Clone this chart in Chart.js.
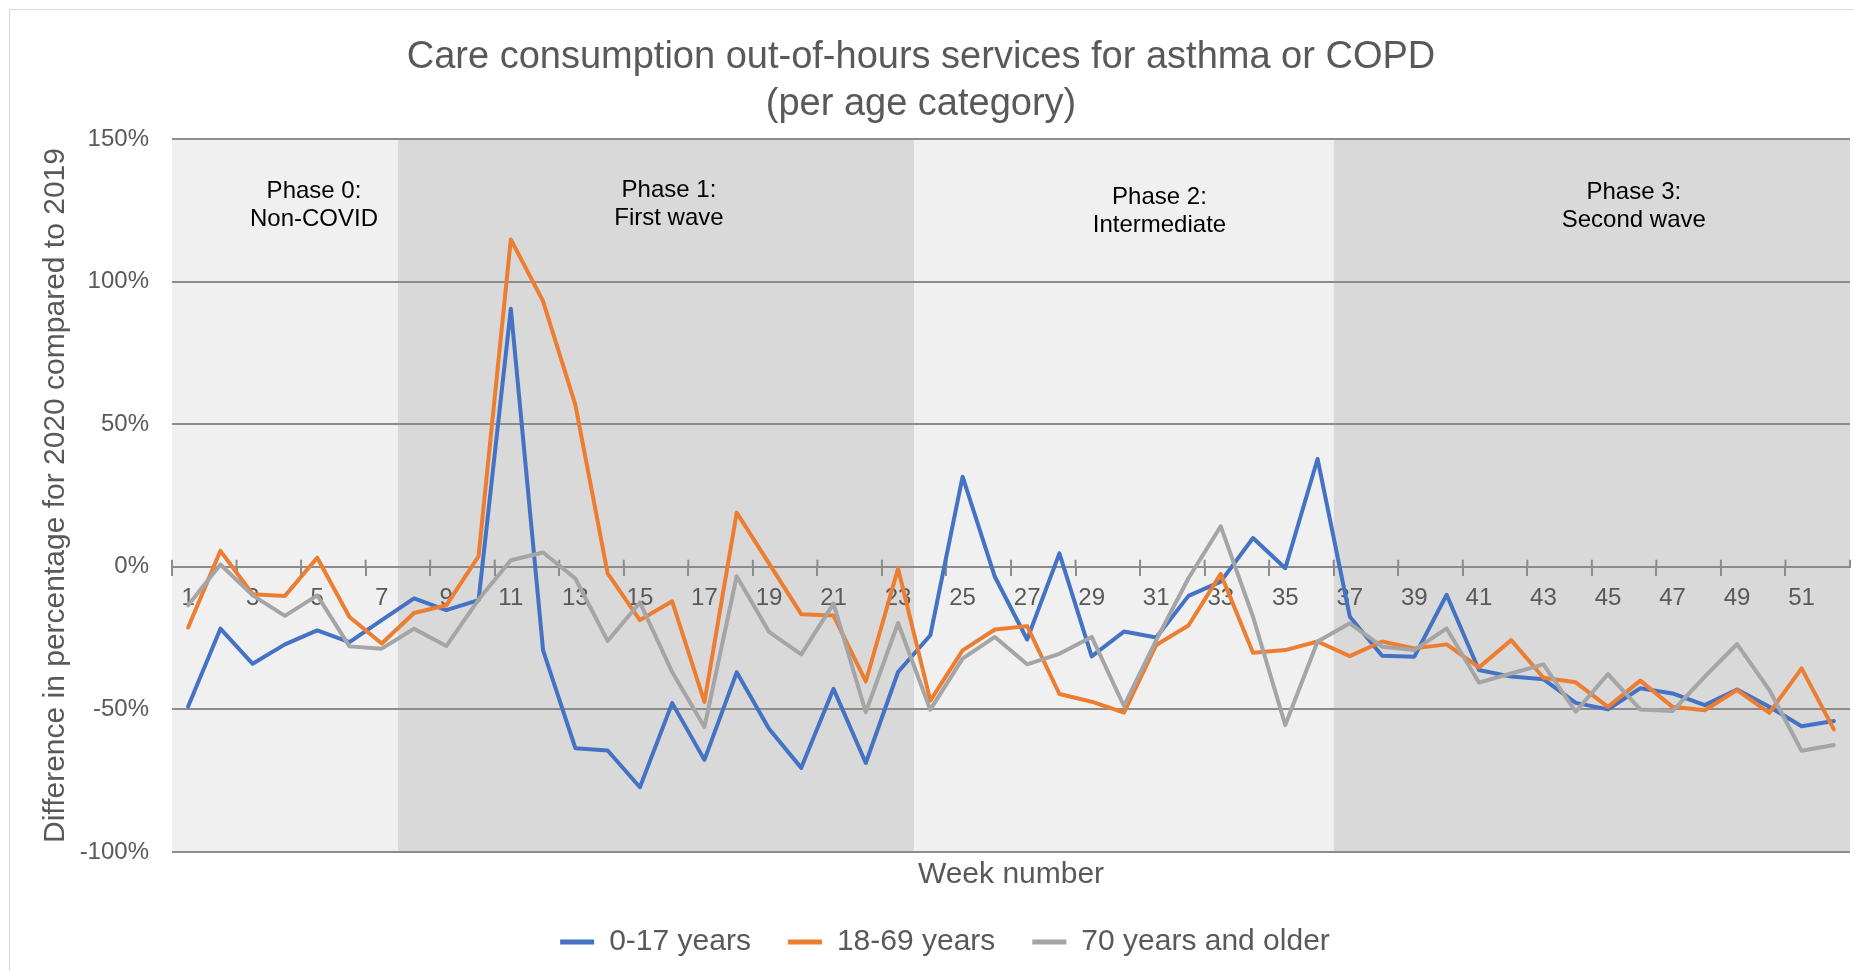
<!DOCTYPE html>
<html>
<head>
<meta charset="utf-8">
<title>Care consumption out-of-hours services for asthma or COPD</title>
<script src="https://cdn.jsdelivr.net/npm/chart.js@4.4.1/dist/chart.umd.min.js"></script>
<style>
  html, body { margin: 0; padding: 0; background: #fff; overflow: hidden; }
  #frame { position: absolute; left: 9px; top: 9px; width: 1900px; height: 1000px; border: 1px solid #d9d9d9; }
  #chart { position: absolute; left: 0; top: 0; }
</style>
</head>
<body>
<div id="frame"></div>
<canvas id="chart" width="1854" height="971"></canvas>
<script>
// difference in % (2020 vs 2019), per week, out-of-hours care for asthma / COPD
const weeks = ["1", "2", "3", "4", "5", "6", "7", "8", "9", "10", "11", "12", "13",
  "14", "15", "16", "17", "18", "19", "20", "21", "22", "23", "24", "25", "26",
  "27", "28", "29", "30", "31", "32", "33", "34", "35", "36", "37", "38", "39",
  "40", "41", "42", "43", "44", "45", "46", "47", "48", "49", "50", "51", "52"];

const seriesNames = ["0-17 years", "18-69 years", "70 years and older"];

const age0to17 = [-49, -21.7, -34, -27.2, -22.3, -26.4, -18.7, -11.1, -15.2, -11.7,
  90.5, -29.3, -63.6, -64.4, -77.3, -47.8, -67.7, -37, -56.8, -70.5,
  -42.8, -68.8, -36.9, -24, 31.6, -3.5, -25.5, 4.7, -31.4, -22.7,
  -24.8, -10.2, -5.2, 10.1, -0.5, 37.8, -17.5, -31.2, -31.5, -9.8,
  -36.2, -38.5, -39.4, -47.7, -50, -42.6, -44.4, -48.5, -43, -49.1,
  -55.9, -54.1];

const age18to69 = [-21.3, 5.6, -9.6, -10.2, 3.2, -17.6, -26.9, -16.2, -13.5, 3.7,
  114.8, 93.1, 56.8, -2.3, -18.7, -12.1, -47.4, 19, 1.2, -16.6,
  -17.1, -40.2, -0.6, -46.9, -29.3, -22, -20.8, -44.6, -47.3, -51.1,
  -27.4, -20.6, -2.5, -30.1, -29.2, -26.2, -31.3, -26.2, -28.6, -27.2,
  -35.3, -25.7, -38.9, -40.5, -49.1, -39.9, -49.1, -50.3, -43.2, -51.2,
  -35.6, -57];

const age70plus = [-13.5, 0.8, -10, -17.2, -10, -27.9, -28.7, -21.7, -27.8, -11.5,
  2.3, 5, -4.1, -26, -12.5, -36.9, -56.2, -3.3, -22.8, -30.7,
  -12.9, -51, -19.7, -50.1, -32.2, -24.6, -34.2, -30.5, -24.6, -48.8,
  -25.7, -4, 14.2, -17.5, -55.5, -26.2, -19.8, -28, -29.2, -21.6,
  -40.6, -37.4, -34.2, -50.8, -37.6, -50, -50.6, -38.5, -27.1, -43.2,
  -64.5, -62.5];

const yTicks = [-100, -50, 0, 50, 100, 150];

const phaseNames = [["Phase 0:", "Non-COVID"], ["Phase 1:", "First wave"],
  ["Phase 2:", "Intermediate"], ["Phase 3:", "Second wave"]];
const phaseFirstWeek = [1, 8, 24, 37];
const phaseLastWeek = [7, 23, 36, 52];

const colors = ["#4472c4", "#ed7d31", "#a5a5a5"];
const phaseFill = ["#f0f0f0", "#d9d9d9", "#f0f0f0", "#d9d9d9"];
// caption anchors in (week, percent) units
const captionAt = [[4.9, 131.8], [15.9, 132.1], [31.1, 129.7], [45.8, 131.3]];
const gridGrey = "#8c8c8c";
const textGrey = "#595959";

Chart.defaults.font.family = "'Liberation Sans', Arial, sans-serif";

// shaded phase bands behind the grid, plus their captions
const phasePlugin = {
  id: "phases",
  afterLayout(chart) {
    // excel puts the legend a bit right of centre, the title a bit left
    chart.legend.left += 20;
    chart.legend.right += 20;
    chart.titleBlock.left -= 4;
    chart.titleBlock.right -= 4;
  },
  beforeDraw(chart) {
    const { ctx, chartArea, scales: { x, y } } = chart;
    const half = (x.getPixelForValue(1) - x.getPixelForValue(0)) / 2;
    ctx.save();
    phaseFirstWeek.forEach((first, i) => {
      const left = x.getPixelForValue(first - 1) - half;
      const right = x.getPixelForValue(phaseLastWeek[i] - 1) + half;
      ctx.fillStyle = phaseFill[i];
      ctx.fillRect(left, chartArea.top, right - left, chartArea.bottom - chartArea.top);
    });
    ctx.fillStyle = "#000";
    ctx.font = "24px 'Liberation Sans', Arial, sans-serif";
    ctx.textAlign = "center";
    ctx.textBaseline = "middle";
    phaseNames.forEach((lines, i) => {
      const cx = x.getPixelForValue(captionAt[i][0] - 1);
      const cy = y.getPixelForValue(captionAt[i][1]);
      lines.forEach((t, j) => ctx.fillText(t, cx, cy + j * 28.5));
    });
    ctx.restore();
  },
  beforeDatasetsDraw(chart) {
    // excel's tick marks cross the axis; chart.js only draws the lower half
    const { ctx, scales: { x, y } } = chart;
    const half = (x.getPixelForValue(1) - x.getPixelForValue(0)) / 2;
    const y0 = y.getPixelForValue(0);
    ctx.save();
    ctx.strokeStyle = gridGrey;
    ctx.lineWidth = 2;
    ctx.beginPath();
    for (let i = 0; i <= weeks.length; i += 2) {
      const px = x.getPixelForValue(i) - half;
      ctx.moveTo(px, y0 - 7);
      ctx.lineTo(px, y0);
    }
    ctx.stroke();
    ctx.restore();
  }
};

const values = [age0to17, age18to69, age70plus];

new Chart(document.getElementById("chart"), {
  type: "line",
  data: {
    labels: weeks,
    datasets: seriesNames.map((name, i) => ({
      label: name,
      data: values[i],
      borderColor: colors[i],
      backgroundColor: colors[i],
      borderWidth: 4,
      pointRadius: 0,
      tension: 0,
      borderJoinStyle: "round",
      borderCapStyle: "round",
      order: 3 - i,
      xAxisID: "x",
      yAxisID: "y"
    }))
  },
  options: {
    responsive: false,
    animation: false,
    layout: { padding: { left: 0, right: 4, top: 0, bottom: 4 } },
    plugins: {
      title: {
        display: true,
        text: ["Care consumption out-of-hours services for asthma or COPD", "(per age category)"],
        color: textGrey,
        font: { size: 38, weight: "normal", lineHeight: 1.237 },
        padding: { top: 34.5, bottom: 10.5 }
      },
      legend: {
        position: "bottom",
        reverse: true,
        labels: {
          color: textGrey,
          font: { size: 30 },
          boxWidth: 34,
          boxHeight: 5,
          padding: 37,
          generateLabels: (chart) =>
            Chart.defaults.plugins.legend.labels.generateLabels(chart).map((item) =>
              Object.assign(item, { lineWidth: 0 }))
        }
      },
      tooltip: { enabled: false }
    },
    scales: {
      x: {
        type: "category",
        position: { y: 0 },
        offset: true,
        grid: {
          drawOnChartArea: false,
          drawTicks: true,
          tickLength: 8,
          offset: true,
          lineWidth: 2,
          color: (ctx) => (ctx.index % 2 === 0 ? gridGrey : "rgba(0,0,0,0)")
        },
        border: { display: true, color: gridGrey, width: 2 },
        ticks: {
          autoSkip: false,
          maxRotation: 0,
          padding: 9,
          color: textGrey,
          font: { size: 24 },
          callback: (val, i) => (i % 2 === 0 ? weeks[i] : "")
        }
      },
      xTitle: {
        type: "category",
        position: "bottom",
        grid: { display: false },
        border: { display: false },
        ticks: { display: false },
        title: {
          display: true,
          text: "Week number",
          color: textGrey,
          font: { size: 30, lineHeight: 1 },
          padding: { top: 0, bottom: 0 }
        }
      },
      y: {
        min: yTicks[0],
        max: yTicks[yTicks.length - 1],
        afterFit: (scale) => { scale.width = 172; },
        afterBuildTicks: (scale) => { scale.ticks = yTicks.map((v) => ({ value: v })); },
        grid: { color: gridGrey, lineWidth: 2, drawTicks: false },
        border: { display: false },
        ticks: {
          padding: 23,
          color: textGrey,
          font: { size: 24 },
          callback: (v) => v + "%"
        },
        title: {
          display: true,
          text: "Difference in percentage for 2020 compared to 2019",
          color: textGrey,
          font: { size: 30, lineHeight: 1.2 },
          padding: { top: 37.5, bottom: 0 }
        }
      }
    }
  },
  plugins: [phasePlugin]
});
</script>
</body>
</html>
